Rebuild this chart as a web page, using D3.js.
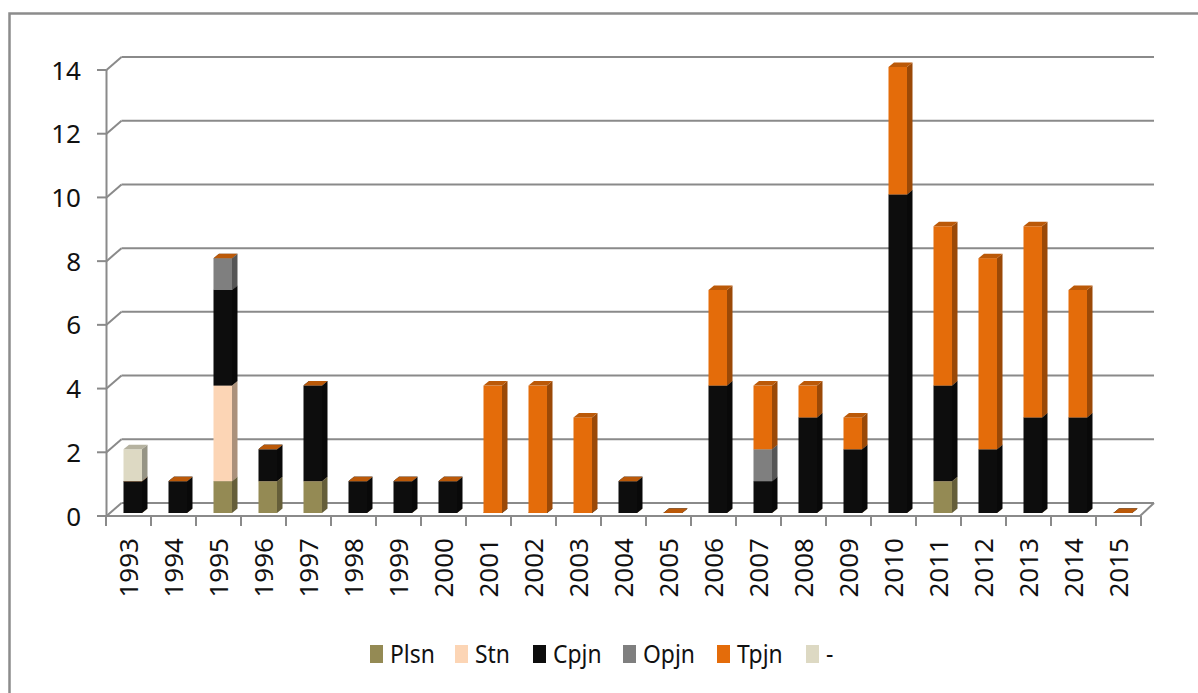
<!DOCTYPE html>
<html><head><meta charset="utf-8">
<script src="https://cdn.jsdelivr.net/npm/d3@7"></script>
<style>body{margin:0;background:#fff}svg{display:block}text{font-family:"Noto Sans",sans-serif;fill:#111}</style>
</head><body><svg id="c" width="1198" height="693"></svg>
<script>
const years = ["1993","1994","1995","1996","1997","1998","1999","2000","2001","2002","2003","2004","2005","2006","2007","2008","2009","2010","2011","2012","2013","2014","2015"];
const seriesNames = ["Plsn","Stn","Cpjn","Opjn","Tpjn","-"];
const plsn = [0,0,1,1,1,0,0,0,0,0,0,0,0,0,0,0,0,0,1,0,0,0,0];
const stn  = [0,0,3,0,0,0,0,0,0,0,0,0,0,0,0,0,0,0,0,0,0,0,0];
const cpjn = [1,1,3,1,3,1,1,1,0,0,0,1,0,4,1,3,2,10,3,2,3,3,0];
const opjn = [0,0,1,0,0,0,0,0,0,0,0,0,0,0,1,0,0,0,0,0,0,0,0];
const tpjn = [0,0,0,0,0,0,0,0,4,4,3,0,0,3,2,1,1,4,5,6,6,4,0];
const dash = [1,null,null,null,null,null,null,null,null,null,null,null,null,null,null,null,null,null,null,null,null,null,null];
const yTicks = [0,2,4,6,8,10,12,14];
const seriesValues = [plsn,stn,cpjn,opjn,tpjn,dash];
const colors = ["#948A54","#FCD5B5","#0D0D0D","#7F7F7F","#E46C0A","#DDD9C3"];

const svg = d3.select("#c");
const grid = "#8a8a8a";
// outer border
svg.append("path").attr("d","M9.5,700 V13.5 H1205").attr("fill","none").attr("stroke","#8c8c8c").attr("stroke-width",2.5);

const x = d3.scaleBand().domain(years).range([106,1141]).padding(0);
const yF = d3.scaleLinear().domain([0,14]).range([516,70]);
const DX = 15, DY = -13;
const yB = d3.scaleLinear().domain([0,14]).range([513,67]);

// back wall gridlines + side connectors
yTicks.forEach(v=>{
  svg.append("line").attr("x1",106.5+DX).attr("x2",1154).attr("y1",yF(v)+DY).attr("y2",yF(v)+DY).attr("stroke",grid).attr("stroke-width",2);
  svg.append("line").attr("x1",106.5).attr("x2",106.5+DX).attr("y1",yF(v)).attr("y2",yF(v)+DY).attr("stroke",grid).attr("stroke-width",2);
});
// floor front edge and right edge
svg.append("line").attr("x1",106.5).attr("x2",1140).attr("y1",516).attr("y2",516).attr("stroke",grid).attr("stroke-width",2);
svg.append("line").attr("x1",1140).attr("x2",1154).attr("y1",516).attr("y2",503).attr("stroke",grid).attr("stroke-width",2);
// y axis
svg.append("line").attr("x1",106.5).attr("x2",106.5).attr("y1",yF(14)).attr("y2",516).attr("stroke",grid).attr("stroke-width",2);
yTicks.forEach(v=>{
  svg.append("line").attr("x1",97).attr("x2",106.5).attr("y1",yF(v)).attr("y2",yF(v)).attr("stroke",grid).attr("stroke-width",2);
  svg.append("text").attr("x",81).attr("y",yF(v)).attr("dy","0.37em").attr("text-anchor","end").attr("font-size",26).text(v);
});
// x ticks
years.concat(["end"]).forEach((yr,i)=>{
  const xx = i<years.length ? x(yr) : x(years[years.length-1])+x.bandwidth();
  svg.append("line").attr("x1",xx).attr("x2",xx).attr("y1",516).attr("y2",526).attr("stroke",grid).attr("stroke-width",2);
});
years.forEach(yr=>{
  const cx = x(yr)+x.bandwidth()/2;
  svg.append("text").attr("transform",`translate(${cx+9},538) rotate(-90)`).attr("text-anchor","end").attr("font-size",26).text(yr);
});

// bars
const BW = 18.5, BO = 17.5, bdx = 5.5, bdy = -4.5;
function shade(c,k){const r=d3.rgb(c);return d3.rgb(r.r*k,r.g*k,r.b*k).toString();}
const g = svg.append("g");
years.forEach((yr,i)=>{
  let acc = 0;
  const x0 = x(yr)+BO, x1 = x0+BW;
  seriesValues.forEach((vals,s)=>{
    const v = vals[i];
    if(v===null) return;
    const yb = yB(acc), yt = yB(acc+v);
    const c = colors[s];
    if(v>0){
      g.append("rect").attr("x",x0).attr("y",yt).attr("width",BW).attr("height",yb-yt).attr("fill",c);
      g.append("path").attr("d",`M${x1},${yb} L${x1+bdx},${yb+bdy} L${x1+bdx},${yt+bdy} L${x1},${yt} Z`).attr("fill",shade(c,0.68));
    }
    g.append("path").attr("d",`M${x0},${yt} L${x0+bdx},${yt+bdy} L${x1+bdx},${yt+bdy} L${x1},${yt} Z`).attr("fill",shade(c,0.82));
    acc += v;
  });
});

// legend
const legX = [370,455,533,623,717,806];
seriesNames.forEach((n,i)=>{
  svg.append("rect").attr("x",legX[i]).attr("y",645).attr("width",13).attr("height",18).attr("fill",colors[i]);
  svg.append("text").attr("transform",`translate(${legX[i]+20},663) scale(0.88,1)`).attr("font-size",26).text(n);
});
</script></body></html>
